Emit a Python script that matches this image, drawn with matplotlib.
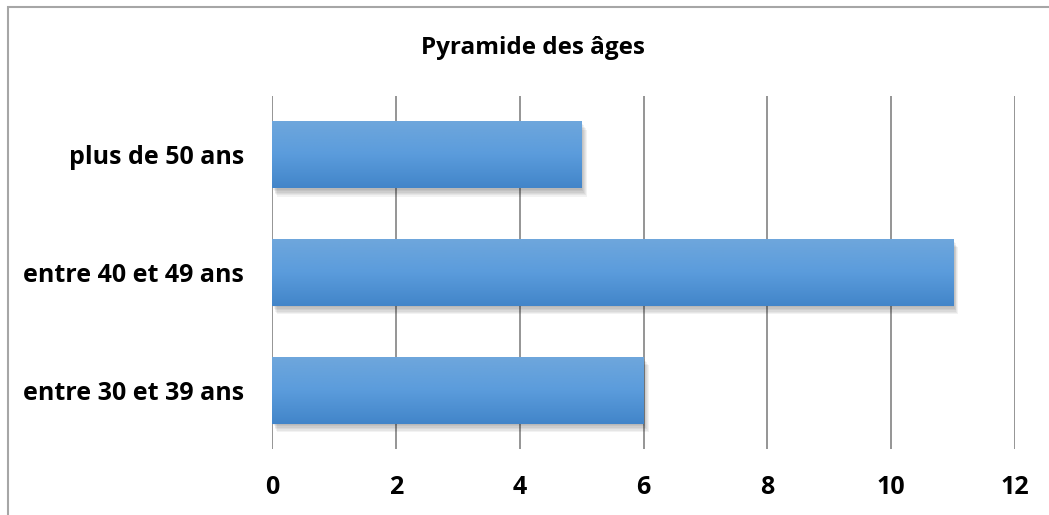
import numpy as np
import matplotlib.pyplot as plt
import matplotlib.patheffects as pe
from matplotlib.colors import LinearSegmentedColormap
from matplotlib.patches import Rectangle

categories = ["entre 30 et 39 ans", "entre 40 et 49 ans", "plus de 50 ans"]
values = [6, 11, 5]
x_ticks = [0, 2, 4, 6, 8, 10, 12]
title = "Pyramide des âges"

plt.rcParams["font.family"] = ["Open Sans", "DejaVu Sans"]

fig = plt.figure(figsize=(10.49, 5.15), dpi=100)
fig.patches.append(Rectangle((8 / 1049, -0.5), 1.2, 1.5 - 7 / 515,
                             transform=fig.transFigure, fill=False,
                             edgecolor="#a6a6a6", linewidth=1.5))
ax = fig.add_axes([272 / 1049, 1 - 449 / 515, (1015 - 272) / 1049, 353 / 515])

height = 0.57
y_pos = np.arange(len(categories))

# soft shadow: stacked offset copies
shadow = [pe.SimplePatchShadow(offset=(d * 0.6, -d), shadow_rgbFace="black", alpha=0.05)
          for d in (1, 2, 3, 4, 5, 6)]
bars = ax.barh(y_pos, values, height=height, color="#5799d6",
               path_effects=shadow + [pe.Normal()], zorder=2)

cmap = LinearSegmentedColormap.from_list("bar", ["#4285c9", "#5b9cdc", "#6fa7dc"])
grad = np.linspace(0, 1, 256).reshape(-1, 1)
for bar, y, v in zip(bars, y_pos, values):
    im = ax.imshow(grad, cmap=cmap, aspect="auto", origin="lower",
                   extent=(0, v, y - height / 2, y + height / 2), zorder=3)
    im.set_clip_path(bar)

ax.set_xlim(0, 12)
ax.set_ylim(-0.5, len(categories) - 0.5)
ax.set_xticks(x_ticks)
ax.set_yticks(y_pos, labels=categories)
ax.grid(axis="x", color="#8c8c8c", linewidth=1.3, zorder=0)
ax.set_axisbelow(True)
for s in ax.spines.values():
    s.set_visible(False)
ax.tick_params(axis="x", length=0, pad=19, labelsize=18)
ax.tick_params(axis="y", length=0, pad=20, labelsize=18)
for lbl in ax.get_xticklabels() + ax.get_yticklabels():
    lbl.set_fontweight("bold")

fig.text(533 / 1049, 1 - 48 / 515, title, ha="center", va="center",
         fontsize=17.5, fontweight="bold")

fig.savefig("out.png", dpi=100)
